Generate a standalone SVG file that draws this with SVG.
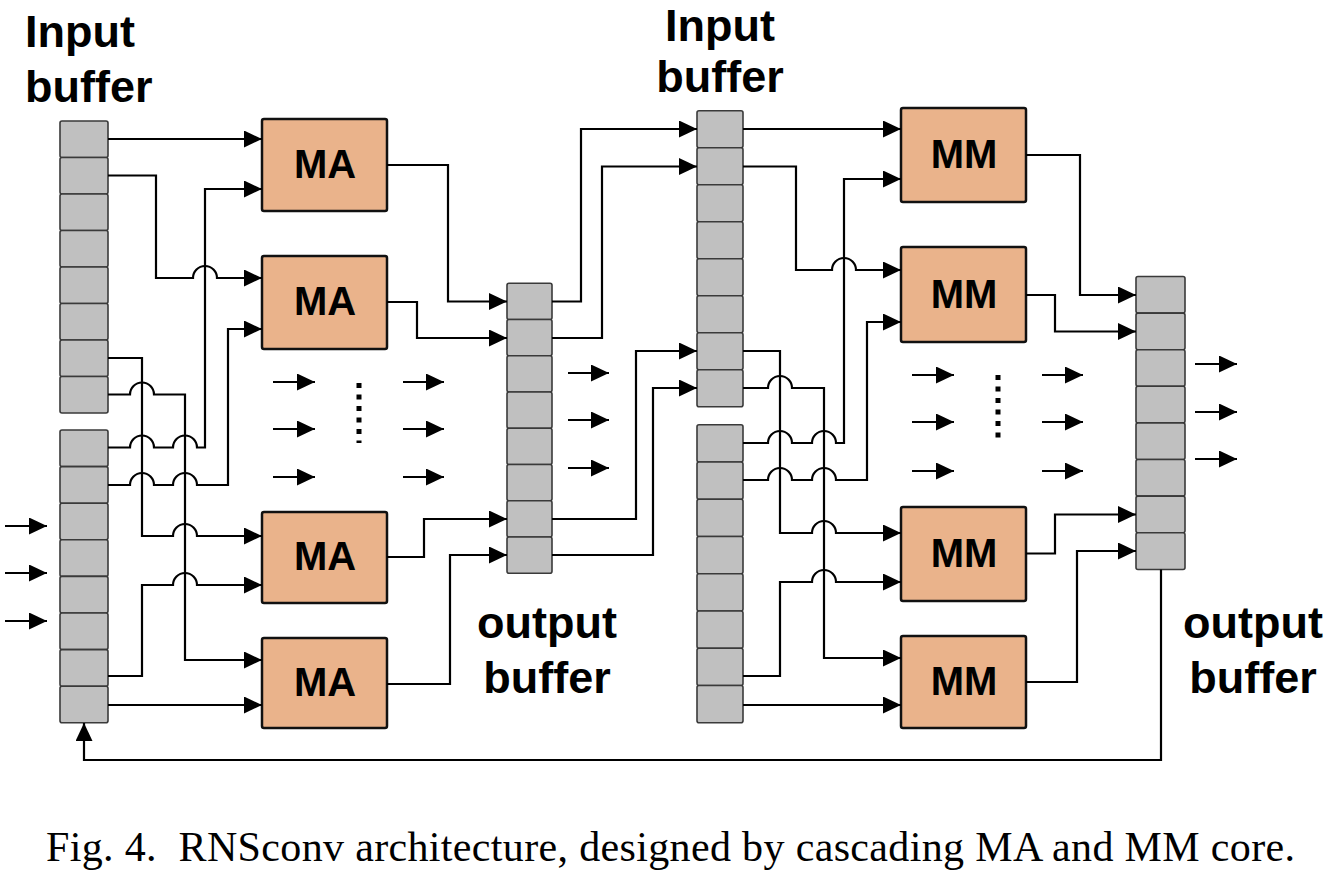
<svg xmlns="http://www.w3.org/2000/svg" width="1328" height="878" viewBox="0 0 1328 878">
<style>
.cell{fill:#c0c0c0;stroke:#3a3a3a;stroke-width:1.6}
.core{fill:#eab38b;stroke:#111;stroke-width:2.5}
.ct{font-family:"Liberation Sans",Arial,sans-serif;font-weight:bold;font-size:40px;fill:#000;text-anchor:middle}
.lbl{font-family:"Liberation Sans",Arial,sans-serif;font-weight:bold;font-size:45px;fill:#000}
.w{fill:none;stroke:#000;stroke-width:2.2}
.a{marker-end:url(#ah)}
.dots{fill:none;stroke:#000;stroke-width:5;stroke-dasharray:5 6.5}
.cap{font-family:"Liberation Serif","Times New Roman",serif;font-size:42px;fill:#000}
</style>
<defs>
<marker id="ah" markerUnits="userSpaceOnUse" markerWidth="18" markerHeight="17" refX="18" refY="8.5" orient="auto">
<path d="M0,0 L18,8.5 L0,17 z" fill="#000"/>
</marker>
</defs>
<rect width="1328" height="878" fill="#fff"/>

<g id="labels">
<text class="lbl" x="25" y="47">Input</text>
<text class="lbl" x="25" y="102">buffer</text>
<text class="lbl" x="720" y="41" text-anchor="middle">Input</text>
<text class="lbl" x="720" y="92" text-anchor="middle">buffer</text>
<text class="lbl" x="547" y="638" text-anchor="middle">output</text>
<text class="lbl" x="547" y="693" text-anchor="middle">buffer</text>
<text class="lbl" x="1253" y="638" text-anchor="middle">output</text>
<text class="lbl" x="1253" y="693" text-anchor="middle">buffer</text>
</g>

<g id="inbuf1a">
<rect class="cell" x="60" y="121" width="48" height="36.5" rx="2"/>
<rect class="cell" x="60" y="157.5" width="48" height="36.5" rx="2"/>
<rect class="cell" x="60" y="194" width="48" height="36.5" rx="2"/>
<rect class="cell" x="60" y="230.5" width="48" height="36.5" rx="2"/>
<rect class="cell" x="60" y="267" width="48" height="36.5" rx="2"/>
<rect class="cell" x="60" y="303.5" width="48" height="36.5" rx="2"/>
<rect class="cell" x="60" y="340" width="48" height="36.5" rx="2"/>
<rect class="cell" x="60" y="376.5" width="48" height="36.5" rx="2"/>
</g>
<g id="inbuf1b">
<rect class="cell" x="60" y="430" width="48" height="36.6" rx="2"/>
<rect class="cell" x="60" y="466.6" width="48" height="36.6" rx="2"/>
<rect class="cell" x="60" y="503.2" width="48" height="36.6" rx="2"/>
<rect class="cell" x="60" y="539.8" width="48" height="36.6" rx="2"/>
<rect class="cell" x="60" y="576.4" width="48" height="36.6" rx="2"/>
<rect class="cell" x="60" y="613" width="48" height="36.6" rx="2"/>
<rect class="cell" x="60" y="649.6" width="48" height="36.6" rx="2"/>
<rect class="cell" x="60" y="686.2" width="48" height="36.6" rx="2"/>
</g>
<g id="outbuf1">
<rect class="cell" x="507" y="283.3" width="45" height="36.25" rx="2"/>
<rect class="cell" x="507" y="319.55" width="45" height="36.25" rx="2"/>
<rect class="cell" x="507" y="355.8" width="45" height="36.25" rx="2"/>
<rect class="cell" x="507" y="392.05" width="45" height="36.25" rx="2"/>
<rect class="cell" x="507" y="428.3" width="45" height="36.25" rx="2"/>
<rect class="cell" x="507" y="464.55" width="45" height="36.25" rx="2"/>
<rect class="cell" x="507" y="500.8" width="45" height="36.25" rx="2"/>
<rect class="cell" x="507" y="537.05" width="45" height="36.25" rx="2"/>
</g>
<g id="inbuf2a">
<rect class="cell" x="697" y="110.7" width="46" height="37" rx="2"/>
<rect class="cell" x="697" y="147.7" width="46" height="37" rx="2"/>
<rect class="cell" x="697" y="184.7" width="46" height="37" rx="2"/>
<rect class="cell" x="697" y="221.7" width="46" height="37" rx="2"/>
<rect class="cell" x="697" y="258.7" width="46" height="37" rx="2"/>
<rect class="cell" x="697" y="295.7" width="46" height="37" rx="2"/>
<rect class="cell" x="697" y="332.7" width="46" height="37" rx="2"/>
<rect class="cell" x="697" y="369.7" width="46" height="37" rx="2"/>
</g>
<g id="inbuf2b">
<rect class="cell" x="697" y="424.7" width="46" height="37.25" rx="2"/>
<rect class="cell" x="697" y="461.95" width="46" height="37.25" rx="2"/>
<rect class="cell" x="697" y="499.2" width="46" height="37.25" rx="2"/>
<rect class="cell" x="697" y="536.45" width="46" height="37.25" rx="2"/>
<rect class="cell" x="697" y="573.7" width="46" height="37.25" rx="2"/>
<rect class="cell" x="697" y="610.95" width="46" height="37.25" rx="2"/>
<rect class="cell" x="697" y="648.2" width="46" height="37.25" rx="2"/>
<rect class="cell" x="697" y="685.45" width="46" height="37.25" rx="2"/>
</g>
<g id="outbuf2">
<rect class="cell" x="1136" y="276.5" width="49" height="36.6" rx="2"/>
<rect class="cell" x="1136" y="313.1" width="49" height="36.6" rx="2"/>
<rect class="cell" x="1136" y="349.7" width="49" height="36.6" rx="2"/>
<rect class="cell" x="1136" y="386.3" width="49" height="36.6" rx="2"/>
<rect class="cell" x="1136" y="422.9" width="49" height="36.6" rx="2"/>
<rect class="cell" x="1136" y="459.5" width="49" height="36.6" rx="2"/>
<rect class="cell" x="1136" y="496.1" width="49" height="36.6" rx="2"/>
<rect class="cell" x="1136" y="532.7" width="49" height="36.8" rx="2"/>
</g>

<g id="ma1"><rect class="core" x="262" y="119" width="125" height="92" rx="2"/><text class="ct" x="325" y="178">MA</text></g>
<g id="ma2"><rect class="core" x="262" y="256" width="125" height="93" rx="2"/><text class="ct" x="325" y="315">MA</text></g>
<g id="ma3"><rect class="core" x="262" y="512" width="125" height="91" rx="2"/><text class="ct" x="325" y="570">MA</text></g>
<g id="ma4"><rect class="core" x="262" y="638" width="125" height="90" rx="2"/><text class="ct" x="325" y="696">MA</text></g>

<g id="mm1"><rect class="core" x="901" y="108" width="125" height="94" rx="2"/><text class="ct" x="964" y="168">MM</text></g>
<g id="mm2"><rect class="core" x="901" y="247" width="125" height="95" rx="2"/><text class="ct" x="964" y="308">MM</text></g>
<g id="mm3"><rect class="core" x="901" y="507" width="125" height="94" rx="2"/><text class="ct" x="964" y="567">MM</text></g>
<g id="mm4"><rect class="core" x="901" y="636" width="125" height="92" rx="2"/><text class="ct" x="964" y="695">MM</text></g>

<g id="connectors">
<path class="w a" d="M108,139 H262"/>
<path class="w a" d="M108,175.5 H156 V278 H193 a12,12 0 0 1 24,0 H262"/>
<path class="w a" d="M108,358 H142 V536 H173 a12,12 0 0 1 24,0 H262"/>
<path class="w a" d="M108,394.5 H130 a12,12 0 0 1 24,0 H185 V660 H262"/>
<path class="w a" d="M108,447.5 H130 a12,12 0 0 1 24,0 H173 a12,12 0 0 1 24,0 H205 V189 H262"/>
<path class="w a" d="M108,485 H130 a12,12 0 0 1 24,0 H173 a12,12 0 0 1 24,0 H228 V329 H262"/>
<path class="w a" d="M108,676 H142 V585 H173 a12,12 0 0 1 24,0 H262"/>
<path class="w a" d="M108,705 H262"/>
<path class="w a" d="M387,165 H448 V301.5 H507"/>
<path class="w a" d="M387,302 H417 V338 H507"/>
<path class="w a" d="M387,557 H424 V519 H507"/>
<path class="w a" d="M387,684 H450 V555 H507"/>
<path class="w a" d="M552,301.5 H581 V129 H697"/>
<path class="w a" d="M552,338 H602 V166.5 H697"/>
<path class="w a" d="M552,519 H636 V351 H697"/>
<path class="w a" d="M552,555 H653 V388 H697"/>
<path class="w a" d="M743,129 H901"/>
<path class="w a" d="M743,166.5 H796 V270 H832 a12,12 0 0 1 24,0 H901"/>
<path class="w a" d="M743,351 H780 V533 H812 a12,12 0 0 1 24,0 H901"/>
<path class="w a" d="M743,388 H768 a12,12 0 0 1 24,0 H824 V658 H901"/>
<path class="w a" d="M743,443 H768 a12,12 0 0 1 24,0 H812 a12,12 0 0 1 24,0 H844 V179 H901"/>
<path class="w a" d="M743,480 H768 a12,12 0 0 1 24,0 H812 a12,12 0 0 1 24,0 H867 V322 H901"/>
<path class="w a" d="M743,676 H780 V582 H812 a12,12 0 0 1 24,0 H901"/>
<path class="w a" d="M743,705 H901"/>
<path class="w a" d="M1026,155 H1080 V295 H1136"/>
<path class="w a" d="M1026,295 H1055 V331.5 H1136"/>
<path class="w a" d="M1026,553.5 H1055 V514.5 H1136"/>
<path class="w a" d="M1026,682 H1077 V551 H1136"/>
<path class="w a" d="M1161,569.5 V760 H84 V723"/>
<path class="w a" d="M5,526 H47"/>
<path class="w a" d="M5,573 H47"/>
<path class="w a" d="M5,621 H47"/>
<path class="w a" d="M273,382 H315"/>
<path class="w a" d="M273,429 H315"/>
<path class="w a" d="M273,477 H315"/>
<path class="w a" d="M403,382 H444"/>
<path class="w a" d="M403,429 H444"/>
<path class="w a" d="M403,477 H444"/>
<path class="w a" d="M568,373 H609"/>
<path class="w a" d="M568,420 H609"/>
<path class="w a" d="M568,468 H609"/>
<path class="w a" d="M912,375 H954"/>
<path class="w a" d="M912,422 H954"/>
<path class="w a" d="M912,471 H954"/>
<path class="w a" d="M1042,375 H1083"/>
<path class="w a" d="M1042,422 H1083"/>
<path class="w a" d="M1042,471 H1083"/>
<path class="w a" d="M1195,364 H1237"/>
<path class="w a" d="M1195,412 H1237"/>
<path class="w a" d="M1195,459 H1237"/>
<path class="dots" d="M359,383 V443"/>
<path class="dots" d="M998,375 V439"/>
</g>

<text class="cap" x="46" y="861" textLength="1249" lengthAdjust="spacing" xml:space="preserve">Fig. 4.  RNSconv architecture, designed by cascading MA and MM core.</text>
</svg>
